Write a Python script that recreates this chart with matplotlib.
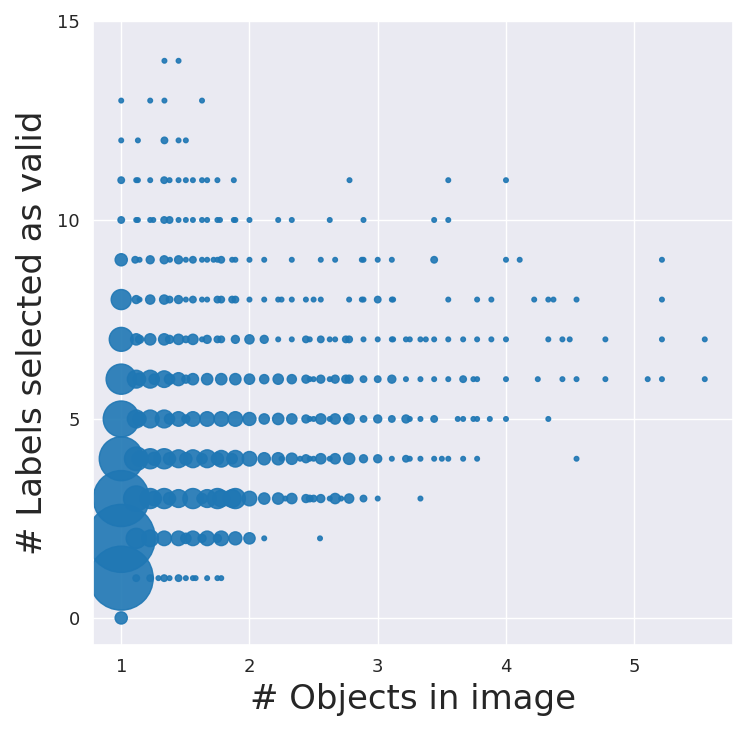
import matplotlib
matplotlib.use("Agg")
import matplotlib.pyplot as plt
import seaborn as sns
import numpy as np

# ---- data: per row (labels selected as valid), x = objects in image, n = count ----
x_y0 = [1.0]
n_y0 = [7]

x_y1 = [1.0, 1.117, 1.226, 1.29, 1.335, 1.377, 1.447, 1.504, 1.559, 1.58, 1.67, 1.75, 1.78]
n_y1 = [193, 2, 2, 1, 2, 1, 2, 1, 1, 1, 1, 1, 1]

x_y2 = [1.0, 1.117, 1.226, 1.335, 1.447, 1.504, 1.559, 1.63, 1.67, 1.75, 1.78, 1.89, 2.0, 2.115, 2.55]
n_y2 = [218, 19, 13, 10, 10, 5, 10, 3, 10, 3, 10, 8, 6, 1, 1]

x_y3 = [1.0, 1.117, 1.226, 1.257, 1.335, 1.377, 1.447, 1.559, 1.63, 1.67, 1.75, 1.78, 1.865,
        1.89, 2.0, 2.115, 2.224, 2.28, 2.33, 2.44, 2.47, 2.5, 2.556, 2.626, 2.668, 2.715,
        2.777, 2.889, 3.0, 3.333]
n_y3 = [148, 30, 19, 10, 19, 7, 15, 19, 5, 15, 19, 13, 15,
        19, 10, 6, 6, 1, 5, 3, 2, 2, 3, 1, 5, 1,
        4, 2, 1, 1]

x_y4 = [1.0, 1.117, 1.143, 1.226, 1.257, 1.335, 1.377, 1.447, 1.504, 1.559, 1.63, 1.67, 1.75,
        1.78, 1.865, 1.89, 2.0, 2.115, 2.224, 2.25, 2.33, 2.395, 2.44, 2.47, 2.5, 2.556,
        2.626, 2.668, 2.777, 2.889, 3.0, 3.11, 3.22, 3.25, 3.333, 3.44, 3.5, 3.55, 3.666,
        3.775, 4.55]
n_y4 = [91, 26, 10, 19, 8, 19, 7, 15, 7, 15, 5, 15, 7,
        13, 5, 13, 10, 7, 7, 1, 6, 1, 3, 1, 1, 5,
        1, 5, 6, 3, 3, 1, 2, 1, 1, 1, 1, 1, 1,
        1, 1]

x_y5 = [1.0, 1.117, 1.143, 1.226, 1.335, 1.377, 1.447, 1.504, 1.559, 1.67, 1.78, 1.89, 2.0,
        2.115, 2.224, 2.33, 2.44, 2.47, 2.5, 2.556, 2.626, 2.668, 2.751, 2.777, 2.889, 3.0,
        3.11, 3.22, 3.25, 3.333, 3.44, 3.624, 3.666, 3.746, 3.775, 3.874, 4.0, 4.33]
n_y5 = [61, 15, 8, 15, 15, 5, 10, 3, 10, 10, 10, 10, 8,
        5, 6, 5, 3, 1, 1, 5, 1, 5, 1, 5, 2, 3,
        2, 3, 1, 1, 2, 1, 1, 1, 1, 1, 1, 1]

x_y6 = [1.0, 1.117, 1.143, 1.226, 1.257, 1.335, 1.377, 1.447, 1.504, 1.559, 1.67, 1.78, 1.89,
        2.0, 2.115, 2.224, 2.33, 2.44, 2.47, 2.5, 2.556, 2.626, 2.668, 2.751, 2.777, 2.889,
        3.0, 3.11, 3.22, 3.333, 3.44, 3.55, 3.666, 3.746, 3.775, 4.0, 4.248, 4.44, 4.55,
        4.775, 5.105, 5.216, 5.55]
n_y6 = [43, 15, 7, 15, 5, 13, 5, 8, 3, 6, 6, 6, 6,
        5, 4, 5, 4, 3, 1, 1, 3, 1, 3, 3, 3, 2,
        2, 3, 1, 1, 1, 1, 2, 1, 1, 1, 1, 1, 1,
        1, 1, 1, 1]

x_y7 = [1.0, 1.117, 1.143, 1.226, 1.335, 1.377, 1.447, 1.504, 1.559, 1.63, 1.67, 1.75, 1.78,
        1.89, 2.0, 2.115, 2.224, 2.33, 2.44, 2.47, 2.556, 2.626, 2.668, 2.751, 2.777, 2.889,
        3.0, 3.11, 3.12, 3.22, 3.25, 3.333, 3.375, 3.44, 3.55, 3.666, 3.775, 3.886, 4.0,
        4.33, 4.44, 4.497, 4.775, 5.216, 5.55]
n_y7 = [27, 6, 3, 6, 6, 3, 5, 2, 5, 1, 3, 2, 2,
        3, 4, 3, 1, 1, 2, 1, 2, 1, 1, 2, 2, 1,
        1, 1, 1, 1, 1, 1, 1, 1, 1, 1, 1, 1, 1,
        1, 1, 1, 1, 1, 1]

x_y8 = [1.0, 1.117, 1.143, 1.226, 1.335, 1.377, 1.447, 1.504, 1.559, 1.63, 1.67, 1.75, 1.78,
        1.865, 1.89, 2.0, 2.115, 2.224, 2.25, 2.33, 2.44, 2.5, 2.556, 2.777, 2.876, 2.889,
        3.0, 3.11, 3.12, 3.55, 3.775, 3.886, 4.22, 4.33, 4.37, 4.55, 5.216]
n_y8 = [19, 3, 1, 4, 4, 2, 3, 1, 2, 1, 1, 2, 2,
        2, 2, 1, 1, 1, 1, 1, 1, 1, 1, 1, 1, 1,
        2, 1, 1, 1, 1, 1, 1, 1, 1, 1, 1]

x_y9 = [1.0, 1.109, 1.143, 1.226, 1.335, 1.38, 1.447, 1.504, 1.559, 1.63, 1.67, 1.72, 1.75,
        1.78, 1.865, 1.89, 2.0, 2.115, 2.33, 2.556, 2.668, 2.876, 2.889, 3.0, 3.11, 3.44,
        4.0, 4.107, 5.216]
n_y9 = [7, 2, 1, 3, 3, 1, 3, 1, 2, 1, 1, 1, 1,
        2, 1, 1, 1, 1, 1, 1, 1, 1, 1, 1, 1, 2,
        1, 1, 1]

x_y10 = [1.0, 1.117, 1.13, 1.226, 1.25, 1.335, 1.377, 1.447, 1.504, 1.559, 1.63, 1.67, 1.75,
         1.77, 1.878, 1.89, 2.0, 2.224, 2.33, 2.626, 2.889, 3.44, 3.55]
n_y10 = [2, 1, 1, 1, 1, 2, 2, 1, 1, 1, 1, 1, 1,
         1, 1, 1, 1, 1, 1, 1, 1, 1, 1]

x_y11 = [1.0, 1.117, 1.13, 1.226, 1.335, 1.377, 1.447, 1.504, 1.559, 1.63, 1.67, 1.75, 1.878,
         2.78, 3.55, 4.0]
n_y11 = [2, 1, 1, 1, 2, 1, 1, 1, 1, 1, 1, 1, 1, 1, 1, 1]

x_y12 = [1.0, 1.13, 1.337, 1.447, 1.504]
n_y12 = [1, 1, 2, 1, 1]

x_y13 = [1.0, 1.226, 1.337, 1.63]
n_y13 = [1, 1, 1, 1]

x_y14 = [1.337, 1.447]
n_y14 = [1, 1]

rows = [(0, x_y0, n_y0), (1, x_y1, n_y1), (2, x_y2, n_y2), (3, x_y3, n_y3),
        (4, x_y4, n_y4), (5, x_y5, n_y5), (6, x_y6, n_y6), (7, x_y7, n_y7),
        (8, x_y8, n_y8), (9, x_y9, n_y9), (10, x_y10, n_y10), (11, x_y11, n_y11),
        (12, x_y12, n_y12), (13, x_y13, n_y13), (14, x_y14, n_y14)]

xs, ys, ns = [], [], []
for yv, xl, nl in rows:
    xs.extend(xl)
    ys.extend([yv] * len(xl))
    ns.extend(nl)
xs = np.array(xs); ys = np.array(ys); ns = np.array(ns, dtype=float)

sns.set_theme(style="darkgrid")
plt.rcParams['font.family'] = ['DejaVu Sans']

fig = plt.figure(figsize=(7.48, 7.33), dpi=100)
ax = fig.add_axes([93/748, 1 - 645/733, (733 - 93)/748, (645 - 21)/733])

ax.scatter(xs, ys, s=ns * 11, color='#1f77b4', alpha=0.9)

ax.set_xlim(0.78, 5.77)
ax.set_ylim(-0.68, 15.0)
ax.set_xticks([1, 2, 3, 4, 5])
ax.set_yticks([0, 5, 10, 15])
ax.tick_params(labelsize=13)
ax.set_xlabel("# Objects in image", fontsize=24.5, labelpad=5)
ax.set_ylabel("# Labels selected as valid", fontsize=24.5, labelpad=6)

fig.savefig("out.png", dpi=100)
